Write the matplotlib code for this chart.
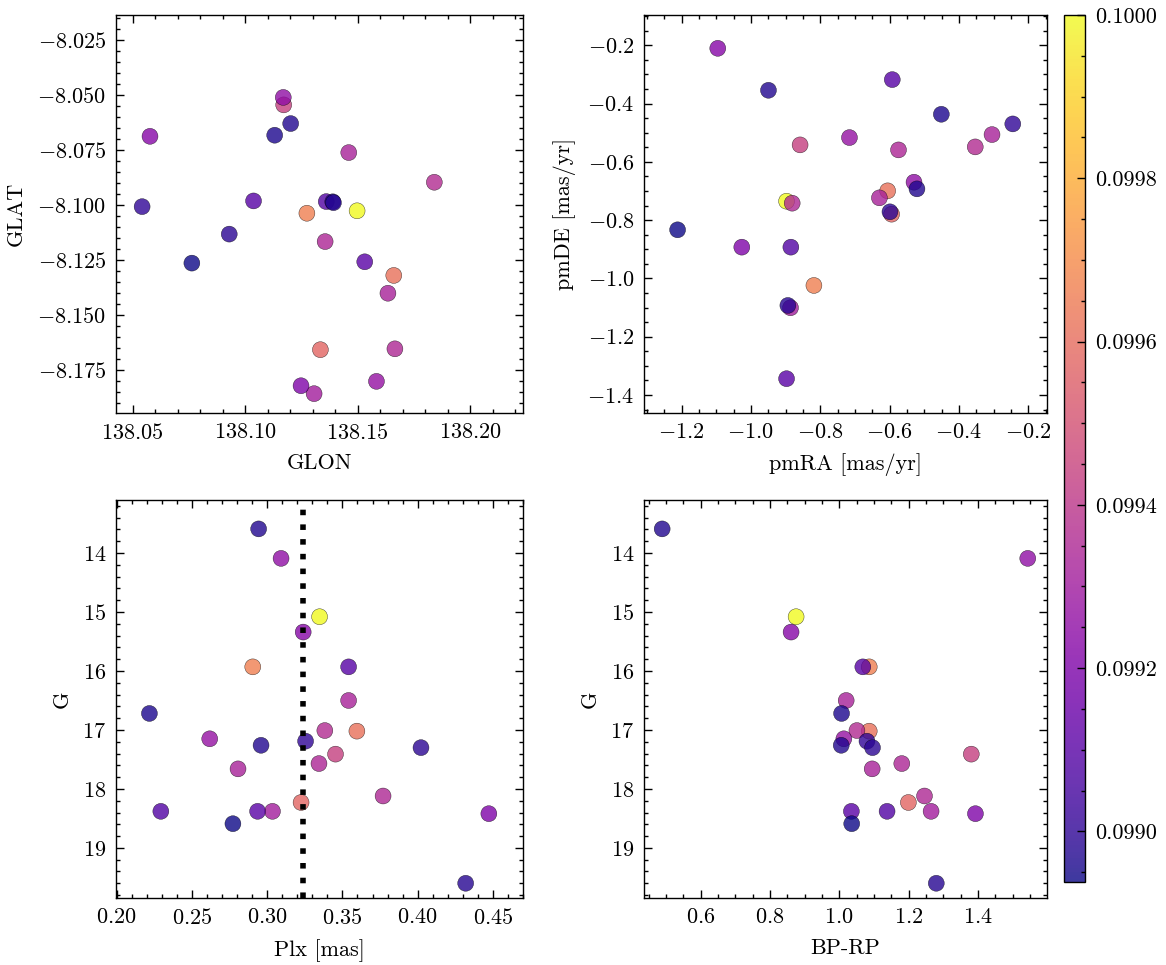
import matplotlib
matplotlib.use("Agg")
import matplotlib.pyplot as plt
from matplotlib.ticker import AutoMinorLocator, FormatStrFormatter

# member stars: positions, proper motions, photometry and membership probability
glon = [138.1497, 138.1274, 138.1660, 138.1334, 138.1171, 138.1460, 138.1840, 138.1355,
        138.1634, 138.1665, 138.1306, 138.1169, 138.0577, 138.1583, 138.1248, 138.1037,
        138.1360, 138.1531, 138.1202, 138.1131, 138.0542, 138.1389, 138.0929, 138.0763,
        138.1392]
glat = [-8.1027, -8.1038, -8.1321, -8.1659, -8.0545, -8.0762, -8.0897, -8.1167,
        -8.1402, -8.1655, -8.1859, -8.0511, -8.0688, -8.1803, -8.1823, -8.0982,
        -8.0985, -8.1259, -8.0630, -8.0683, -8.1008, -8.0986, -8.1133, -8.1265,
        -8.0990]
pmra = [-0.8971, -0.8182, -0.6055, -0.5941, -0.8581, -0.3045, -0.3529, -0.5742,
        -0.6293, -0.8809, -0.8857, -0.5295, -1.0955, -0.7157, -1.0262, -0.5922,
        -0.8847, -0.8971, -0.9493, -0.4507, -0.2446, -0.5210, -0.5989, -1.2114,
        -0.8933]
pmde = [-0.7349, -1.0240, -0.6994, -0.7794, -0.5417, -0.5063, -0.5486, -0.5589,
        -0.7234, -0.7417, -1.1006, -0.6697, -0.2103, -0.5166, -0.8926, -0.3177,
        -0.8926, -1.3440, -0.3543, -0.4366, -0.4697, -0.6926, -0.7714, -0.8331,
        -1.0926]
plx = [0.3348, 0.2904, 0.3596, 0.3225, 0.3454, 0.3541, 0.3383, 0.3344,
       0.2806, 0.3770, 0.3035, 0.3092, 0.3239, 0.2618, 0.4473, 0.3541,
       0.2293, 0.2936, 0.2943, 0.2217, 0.3255, 0.2959, 0.4022, 0.2772,
       0.4319]
gmag = [15.08, 15.93, 17.02, 18.23, 17.41, 16.50, 17.01, 17.57,
        17.66, 18.12, 18.38, 14.09, 15.34, 17.15, 18.42, 15.93,
        18.38, 18.38, 13.59, 16.72, 17.19, 17.26, 17.30, 18.59,
        19.60]
bprp = [0.8755, 1.0865, 1.0865, 1.1995, 1.381, 1.020, 1.051, 1.1805,
        1.095, 1.246, 1.265, 1.544, 0.861, 1.0133, 1.393, 1.068,
        1.138, 1.035, 0.489, 1.0067, 1.080, 1.0057, 1.096, 1.036,
        1.280]
prob = [0.100000, 0.099660, 0.099618, 0.099575, 0.099437, 0.099331, 0.099363, 0.099342,
        0.099325, 0.099352, 0.099310, 0.099257, 0.099225, 0.099267, 0.099204, 0.099097,
        0.099087, 0.099108, 0.098970, 0.098959, 0.099002, 0.098968, 0.098991, 0.098938,
        0.098980]
plx_ref = 0.3239

plt.rcParams.update({
    "font.family": "serif",
    "font.serif": ["cmr10"],
    "mathtext.fontset": "cm",
    "axes.formatter.use_mathtext": True,
    "font.size": 8,
    "axes.labelsize": 8,
    "xtick.labelsize": 8,
    "ytick.labelsize": 8,
    "axes.linewidth": 0.5,
    "xtick.direction": "in",
    "ytick.direction": "in",
    "xtick.top": True,
    "ytick.right": True,
    "xtick.major.size": 3,
    "ytick.major.size": 3,
    "xtick.minor.size": 1.5,
    "ytick.minor.size": 1.5,
    "xtick.major.width": 0.5,
    "ytick.major.width": 0.5,
    "xtick.minor.width": 0.5,
    "ytick.minor.width": 0.5,
    "xtick.minor.visible": True,
    "ytick.minor.visible": True,
})

W, H = 1166, 965
fig = plt.figure(figsize=(W / 200, H / 200), dpi=200)


def box(x0, y0, x1, y1):
    return [x0 / W, 1 - y1 / H, (x1 - x0) / W, (y1 - y0) / H]


ax_pos = fig.add_axes(box(116, 15, 523, 413))
ax_pm = fig.add_axes(box(644, 15, 1047, 413))
ax_plx = fig.add_axes(box(116, 500, 523, 898))
ax_cmd = fig.add_axes(box(644, 500, 1047, 898))
cax = fig.add_axes(box(1064, 15, 1085, 882))

kw = dict(c=prob, cmap="plasma", s=33, alpha=0.8, edgecolors="k", linewidths=0.15)

sc = ax_pos.scatter(glon, glat, **kw)
ax_pos.set_xlim(138.0426, 138.2234)
ax_pos.set_ylim(-8.1947, -8.0136)
ax_pos.set_xlabel("GLON")
ax_pos.set_ylabel("GLAT")

ax_pm.scatter(pmra, pmde, **kw)
ax_pm.set_xlim(-1.3083, -0.1459)
ax_pm.set_ylim(-1.4617, -0.096)
ax_pm.set_xlabel("pmRA [mas/yr]")
ax_pm.set_ylabel("pmDE [mas/yr]")

ax_plx.scatter(plx, gmag, **kw)
ax_plx.axvline(plx_ref, color="k", linestyle=":", linewidth=2)
ax_plx.set_xlim(0.1995, 0.470)
ax_plx.set_ylim(19.85, 13.10)
ax_plx.set_xlabel("Plx [mas]")
ax_plx.set_ylabel("G")

ax_cmd.scatter(bprp, gmag, **kw)
ax_cmd.set_xlim(0.4366, 1.5995)
ax_cmd.set_ylim(19.85, 13.10)
ax_cmd.set_xlabel("BP-RP")
ax_cmd.set_ylabel("G")

cb = fig.colorbar(sc, cax=cax)
cb.set_alpha(0.8)
cb.outline.set_linewidth(0.5)
cb.ax.yaxis.set_major_formatter(FormatStrFormatter("%.4f"))
cb.ax.yaxis.set_minor_locator(AutoMinorLocator())
cb.ax.tick_params(which="both", direction="in", right=True, left=False)

fig.savefig("out.png", dpi=200)
